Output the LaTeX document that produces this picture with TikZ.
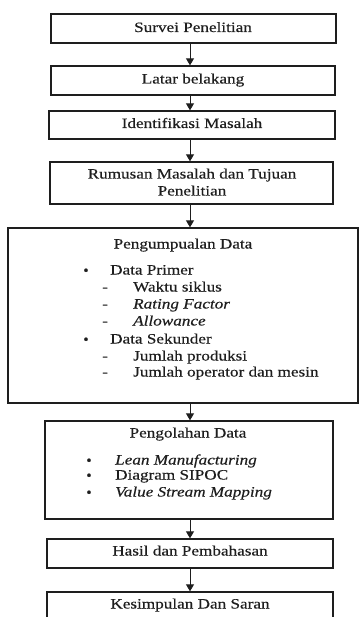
\documentclass[tikz,border=0pt]{standalone}
\usepackage{fontspec}
\setmainfont{Liberation Serif}[FakeStretch=1.2, FakeBold=0.4]
\newfontfamily\dotfont{Liberation Serif}[FakeBold=1.5]
\usetikzlibrary{arrows.meta}
\definecolor{ink}{HTML}{1E1E1E}
\tikzset{
  box/.style={draw=ink, line width=1.3pt, rectangle, inner sep=0pt},
  txt/.style={inner sep=0pt, text=ink, text height=10pt, text depth=3pt},
  item/.style={txt, anchor=west},
  dot/.style={inner sep=0pt, text=ink, text height=8pt, text depth=0pt,
    font=\fontsize{14.3}{16}\dotfont},
  arr/.style={draw=ink, line width=0.9pt, -{Triangle[width=8pt,length=7pt]}}
}
\begin{document}
\begin{tikzpicture}[x=1pt, y=-1pt, font=\fontsize{14.3}{16}\selectfont]
\useasboundingbox (0,0) rectangle (359,617);
\clip (0,0) rectangle (359,617);

% main flow boxes
\node[box, minimum width=285pt, minimum height=29pt] (b1) at (193.5,28.5) {};
\node[box, minimum width=284pt, minimum height=29pt] (b2) at (193,80.5) {};
\node[box, minimum width=286pt, minimum height=28pt] (b3) at (192,125) {};
\node[box, minimum width=283pt, minimum height=42pt] (b4) at (191.5,183) {};
\node[box, minimum width=350pt, minimum height=175pt] (b5) at (183,315.5) {};
\node[box, minimum width=288pt, minimum height=98pt] (b6) at (189,470) {};
\node[box, minimum width=286pt, minimum height=29pt] (b7) at (190,553.5) {};
\node[box, minimum width=286pt, minimum height=40pt] (b8) at (190,612) {};

% single-line titles
\node[txt] (t1) at (193,28.5) {Survei Penelitian};
\node[txt] (t2) at (193,80) {Latar belakang};
\node[txt] (t3) at (192,124.5) {Identifikasi Masalah};
\node[txt] (t4a) at (192,175) {Rumusan Masalah dan Tujuan};
\node[txt] (t4b) at (192,192) {Penelitian};
\node[txt] (t7) at (190,552) {Hasil dan Pembahasan};
\node[txt] (t8) at (190,605) {Kesimpulan Dan Saran};

% data collection
\node[txt] (t5) at (183,245) {Pengumpualan Data};
\node[dot] (p0) at (86,271) {•};
\node[item] (p1) at (110,271) {Data Primer};
\node[txt] (pd1) at (105,288) {-};
\node[item] (p2) at (133,288) {Waktu siklus};
\node[txt] (pd2) at (105,305) {-};
\node[item] (p3) at (133,305) {\itshape Rating Factor};
\node[txt] (pd3) at (105,322) {-};
\node[item] (p4) at (133,322) {\itshape Allowance};
\node[dot] (s0) at (86,340) {•};
\node[item] (s1) at (110,340) {Data Sekunder};
\node[txt] (sd1) at (105,357) {-};
\node[item] (s2) at (133,357) {Jumlah produksi};
\node[txt] (sd2) at (105,373) {-};
\node[item] (s3) at (133,373) {Jumlah operator dan mesin};

% data processing
\node[txt] (t6) at (188,434) {Pengolahan Data};
\node[dot] (q1b) at (89,461) {•};
\node[item] (q1) at (115,461) {\itshape Lean Manufacturing};
\node[dot] (q2b) at (89,476) {•};
\node[item] (q2) at (115,476) {Diagram SIPOC};
\node[dot] (q3b) at (89,493) {•};
\node[item] (q3) at (115,493) {\itshape Value Stream Mapping};

% connectors
\coordinate (ax) at (190,0);
\draw[arr] (b1.south -| ax) -- (b2.north -| ax);
\draw[arr] (b2.south -| ax) -- (b3.north -| ax);
\draw[arr] (b3.south -| ax) -- (b4.north -| ax);
\draw[arr] (b4.south -| ax) -- (b5.north -| ax);
\draw[arr] (b5.south -| ax) -- (b6.north -| ax);
\draw[arr] (b6.south -| ax) -- (b7.north -| ax);
\draw[arr] (b7.south -| ax) -- (b8.north -| ax);
\end{tikzpicture}
\end{document}
